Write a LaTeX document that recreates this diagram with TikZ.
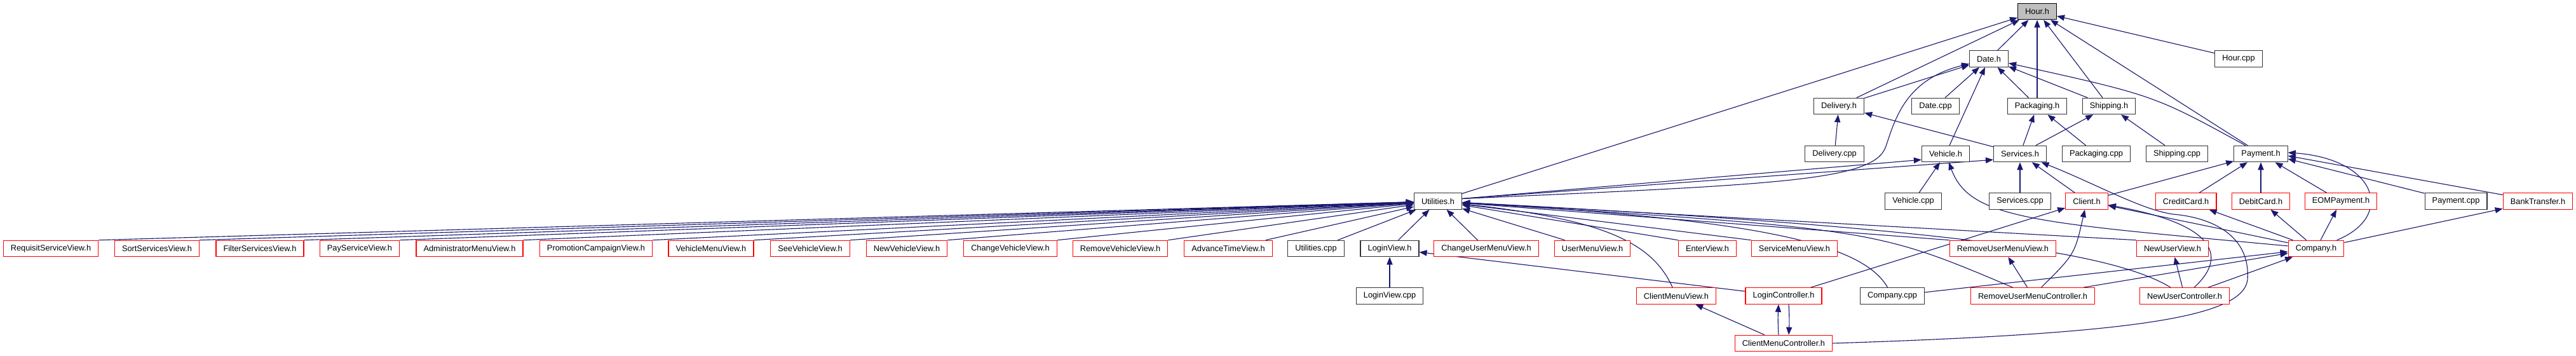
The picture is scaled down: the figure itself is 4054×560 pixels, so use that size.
\documentclass[tikz,border=0pt]{standalone}
\usepackage{fontspec}
\setmainfont{Liberation Sans}
\usetikzlibrary{arrows.meta, backgrounds}
\definecolor{midnight}{HTML}{191970}
\definecolor{rootgray}{HTML}{BFBFBF}

\begin{document}
\begin{tikzpicture}[x=0.25mm, y=-0.25mm]
    \tikzstyle{file} = [draw=black!80, line width=0.3mm, rectangle, fill=white, inner xsep=2.9mm, inner ysep=0.5mm, minimum height=6.35mm, font=\fontsize{9.1pt}{10pt}\selectfont]
    \tikzstyle{redfile} = [file, draw=red]
    \tikzstyle{rootfile} = [file, draw=black, fill=rootgray]
    \tikzstyle{incl} = [draw=midnight, line width=0.28mm, -{Triangle[length=3mm, width=2.3mm]}]

    \useasboundingbox (0,0) rectangle (4054,560);

    % headers at the top
    \node [rootfile] (hour) at (3206,18) {Hour.h};
    \node [file] (date) at (3130,92.5) {Date.h};
    \node [file] (hourcpp) at (3523,92.5) {Hour.cpp};
    \node [file] (delivery) at (2894,167) {Delivery.h};
    \node [file] (datecpp) at (3046,167) {Date.cpp};
    \node [file] (packaging) at (3206,167) {Packaging.h};
    \node [file] (shipping) at (3319,167) {Shipping.h};
    \node [file] (deliverycpp) at (2887,242) {Delivery.cpp};
    \node [file] (vehicle) at (3062,242) {Vehicle.h};
    \node [file] (services) at (3179,242) {Services.h};
    \node [file] (packagingcpp) at (3299,242) {Packaging.cpp};
    \node [file] (shippingcpp) at (3426,242) {Shipping.cpp};
    \node [file] (payment) at (3558,242) {Payment.h};

    \node [file] (utilities) at (2263,316.5) {Utilities.h};
    \node [file] (vehiclecpp) at (3011,316.5) {Vehicle.cpp};
    \node [file] (servicescpp) at (3179,316.5) {Services.cpp};
    \node [redfile] (client) at (3284,316.5) {Client.h};
    \node [redfile] (creditcard) at (3440,316.5) {CreditCard.h};
    \node [redfile] (debitcard) at (3558,316.5) {DebitCard.h};
    \node [redfile] (eompayment) at (3684,316.5) {EOMPayment.h};
    \node [file] (paymentcpp) at (3865,316.5) {Payment.cpp};
    \node [redfile] (banktransfer) at (3994,316.5) {BankTransfer.h};

    % row of views
    \node [redfile] (requisitview) at (80,391) {RequisitServiceView.h};
    \node [redfile] (sortview) at (247,391) {SortServicesView.h};
    \node [redfile] (filterview) at (409,391) {FilterServicesView.h};
    \node [redfile] (payview) at (566,391) {PayServiceView.h};
    \node [redfile] (adminview) at (739,391) {AdministratorMenuView.h};
    \node [redfile] (promoview) at (938,391) {PromotionCampaignView.h};
    \node [redfile] (vehiclemenuview) at (1119,391) {VehicleMenuView.h};
    \node [redfile] (seevehicleview) at (1275,391) {SeeVehicleView.h};
    \node [redfile] (newvehicleview) at (1427,391) {NewVehicleView.h};
    \node [redfile] (changevehicleview) at (1590,391) {ChangeVehicleView.h};
    \node [redfile] (removevehicleview) at (1763,391) {RemoveVehicleView.h};
    \node [redfile] (advancetimeview) at (1933,391) {AdvanceTimeView.h};
    \node [file] (utilitiescpp) at (2071,391) {Utilities.cpp};
    \node [file] (loginview) at (2187,391) {LoginView.h};
    \node [redfile] (changeuserview) at (2339,391) {ChangeUserMenuView.h};
    \node [redfile] (usermenuview) at (2506,391) {UserMenuView.h};
    \node [redfile] (enterview) at (2687,391) {EnterView.h};
    \node [redfile] (servicemenuview) at (2824,391) {ServiceMenuView.h};
    \node [redfile] (removeuserview) at (3152,391) {RemoveUserMenuView.h};
    \node [redfile] (newuserview) at (3419,391) {NewUserView.h};
    \node [redfile] (company) at (3645,391) {Company.h};

    % controllers
    \node [file] (loginviewcpp) at (2187,465.5) {LoginView.cpp};
    \node [redfile] (clientmenuview) at (2638,465.5) {ClientMenuView.h};
    \node [redfile] (loginctrl) at (2807,465.5) {LoginController.h};
    \node [file] (companycpp) at (2978,465.5) {Company.cpp};
    \node [redfile] (removeuserctrl) at (3199,465.5) {RemoveUserMenuController.h};
    \node [redfile] (newuserctrl) at (3438,465.5) {NewUserController.h};
    \node [redfile] (clientmenuctrl) at (2807,540) {ClientMenuController.h};

    \begin{scope}[on background layer]
    % Hour.h and Date.h
    \draw [incl] (utilities) -- (hour);
    \draw [incl] (delivery) -- (hour);
    \draw [incl] (date) -- (hour);
    \draw [incl] (packaging) -- (hour);
    \draw [incl] (shipping) -- (hour);
    \draw [incl] (payment) -- (hour);
    \draw [incl] (hourcpp) -- (hour);
    \draw [incl] (delivery) -- (date);
    \draw [incl] ([yshift=1mm]utilities.east) .. controls (2800,290) and (2950,285) .. (2968,230) .. controls (2983,185) and (3000,125) .. (date);
    \draw [incl] (datecpp) -- (date);
    \draw [incl] (vehicle) -- (date);
    \draw [incl] (packaging) -- (date);
    \draw [incl] (shipping) -- (date);
    \draw [incl] (payment) .. controls (3390,150) .. (date);

    \draw [incl] (deliverycpp) -- (delivery);
    \draw [incl] (services) -- (delivery);
    \draw [incl] (services) -- (packaging);
    \draw [incl] (packagingcpp) -- (packaging);
    \draw [incl] (services) -- (shipping);
    \draw [incl] (shippingcpp) -- (shipping);

    % Vehicle.h and Services.h
    \draw [incl] ([yshift=1mm]utilities.east) -- ([yshift=1mm]vehicle.south west);
    \draw [incl] ([yshift=1mm]utilities.east) -- ([yshift=1mm]services.south west);
    \draw [incl] (vehiclecpp) -- (vehicle);
    \draw [incl] (company) .. controls (3200,350) and (3100,345) .. (vehicle);
    \draw [incl] (servicescpp) -- (services);
    \draw [incl] (client) -- (services);
    \draw [incl] (clientmenuctrl.east) .. controls (3350,525) and (3530,500) .. (3537,440) .. controls (3542,370) and (3480,342) .. (3420,337) .. controls (3370,330) and (3300,290) .. (services);

    % Payment.h
    \draw [incl] (client) -- (payment);
    \draw [incl] (creditcard) -- (payment);
    \draw [incl] (debitcard) -- (payment);
    \draw [incl] (eompayment) -- (payment);
    \draw [incl] (company) .. controls (3770,340) and (3740,250) .. ([yshift=0.5mm]payment.east);
    \draw [incl] (banktransfer) -- ([yshift=-0.8mm]payment.east);
    \draw [incl] (paymentcpp) -- ([yshift=-2mm]payment.east);

    % Client.h and Company.h
    \draw [incl] (loginctrl) -- (client);
    \draw [incl] (removeuserctrl) .. controls (3265,400) .. (client);
    \draw [incl] (company) -- (client);
    \draw [incl] (newuserctrl) .. controls (3500,410) and (3500,355) .. (client);
    \draw [incl] (company) -- (creditcard);
    \draw [incl] (company) -- (debitcard);
    \draw [incl] (company) -- (eompayment);
    \draw [incl] (company) -- (banktransfer);
    \draw [incl] (companycpp) -- (company);
    \draw [incl] (removeuserctrl) -- (company);
    \draw [incl] (newuserctrl) -- (company);

    % everything that includes Utilities.h
    \draw [incl] (requisitview.north east) -- (utilities);
    \draw [incl] (sortview.north east) -- (utilities);
    \draw [incl] (filterview.north east) -- (utilities);
    \draw [incl] (payview.north east) -- (utilities);
    \draw [incl] (adminview.north east) -- (utilities);
    \draw [incl] (promoview.north east) -- (utilities);
    \draw [incl] (vehiclemenuview.north east) -- (utilities);
    \draw [incl] (seevehicleview.north east) -- (utilities);
    \draw [incl] (newvehicleview.north east) -- (utilities);
    \draw [incl] (changevehicleview.north east) -- (utilities);
    \draw [incl] (removevehicleview.north east) -- (utilities);
    \draw [incl] (advancetimeview) -- (utilities);
    \draw [incl] (utilitiescpp) -- (utilities);
    \draw [incl] (loginview) -- (utilities);
    \draw [incl] (changeuserview) -- (utilities);
    \draw [incl] (usermenuview) -- (utilities);
    \draw [incl] (enterview.north west) -- (utilities);
    \draw [incl] (servicemenuview.north west) -- (utilities);
    \draw [incl] (removeuserview.north west) -- (utilities);
    \draw [incl] (newuserview.north west) -- (utilities);
    \draw [incl] (clientmenuview) .. controls (2600,380) and (2520,345) .. (utilities);
    \draw [incl] (companycpp) .. controls (2930,380) and (2750,345) .. (utilities);
    \draw [incl] (removeuserctrl) .. controls (2950,360) .. (utilities);
    \draw [incl] (newuserctrl) .. controls (3330,400) and (3100,360) .. (utilities);

    % views and controllers
    \draw [incl] (loginviewcpp) -- (loginview);
    \draw [incl] (loginctrl) -- (loginview);
    \draw [incl] (removeuserctrl) -- (removeuserview);
    \draw [incl] (newuserctrl) -- (newuserview);
    \draw [incl] (clientmenuctrl) -- (clientmenuview);
    \draw [incl] ([xshift=-2mm]clientmenuctrl.north) .. controls +(-1,-18) and +(-1,18) .. ([xshift=-2mm]loginctrl.south);
    \draw [incl] ([xshift=2mm]loginctrl.south) .. controls +(1,18) and +(1,-18) .. ([xshift=2mm]clientmenuctrl.north);
    \end{scope}
\end{tikzpicture}
\end{document}
